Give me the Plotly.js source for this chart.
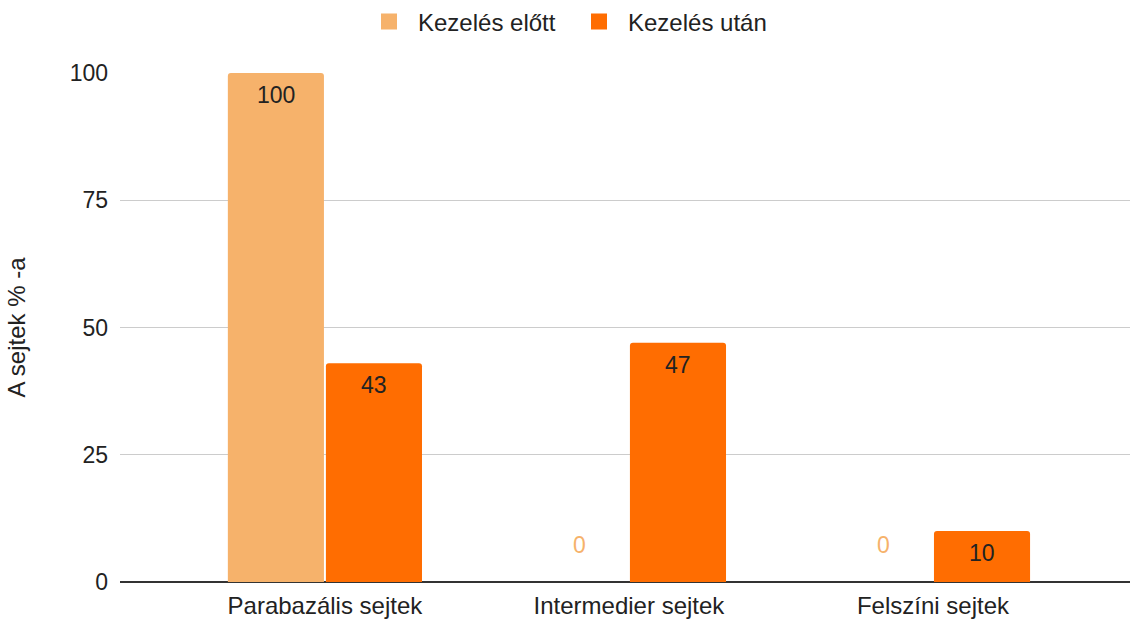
<!DOCTYPE html>
<html><head><meta charset="utf-8">
<script src="https://cdn.plot.ly/plotly-3.0.1.min.js"></script>
<style>html,body{margin:0;padding:0;background:#fff}#chart{width:1130px;height:619px}</style>
</head><body><div id="chart"></div>
<script>
const categories = ["Parabazális sejtek", "Intermedier sejtek", "Felszíni sejtek"];
const seriesNames = ["Kezelés előtt", "Kezelés után"];
const before = [100, 0, 0];
const after = [43, 47, 10];
const colors = ["#f6b26b", "#ff6d01"];
const yTicks = [0, 25, 50, 75, 100];

const FONT = "Arial, 'Liberation Sans', sans-serif";
const TXT = "#222222";
const series = [before, after];

const traces = series.map((vals, i) => ({
  type: "bar",
  name: seriesNames[i],
  x: categories,
  y: vals,
  marker: {color: colors[i], line: {width: 0}},
  showlegend: false,
  hoverinfo: "none"
}));
// legend entries with larger square symbols
seriesNames.forEach((n, i) => traces.push({
  type: "scatter", mode: "markers", name: n, x: [null], y: [null],
  marker: {symbol: "square", size: 16, color: colors[i], line: {width: 0}},
  showlegend: true, hoverinfo: "none"
}));

const barOffset = 49; // px offset of each bar centre from the category centre
const annotations = [];
series.forEach((vals, i) => {
  vals.forEach((v, j) => {
    annotations.push({
      x: categories[j], y: v, xref: "x", yref: "y",
      xshift: (i === 0 ? -barOffset : barOffset),
      yshift: v === 0 ? 37 : -22,
      text: String(v), showarrow: false, yanchor: "middle",
      font: {family: FONT, size: 23, color: v === 0 ? colors[i] : TXT}
    });
  });
});

const layout = {
  width: 1130, height: 619,
  margin: {l: 120, r: 0, t: 73, b: 37},
  paper_bgcolor: "#fff", plot_bgcolor: "#fff",
  font: {family: FONT, size: 24, color: TXT},
  barmode: "group", bargap: 0.355, bargroupgap: 0.02, barcornerradius: 3,
  showlegend: true,
  legend: {orientation: "h", xref: "container", x: 360 / 1130, xanchor: "left",
           yref: "container", y: 1 - 22 / 619, yanchor: "middle", font: {size: 24, color: TXT},
           itemsizing: "trace", itemwidth: 48, entrywidth: 147, entrywidthmode: "pixels",
           traceorder: "normal"},
  xaxis: {type: "category", range: [-0.674, 2.648], showgrid: false, zeroline: false,
          showline: false, ticks: "", ticklabelstandoff: 7, tickfont: {size: 24, color: TXT}},
  yaxis: {range: [0, 100], tickvals: yTicks, ticktext: yTicks.map(String),
          showgrid: true, gridcolor: "#cccccc", gridwidth: 1,
          zeroline: true, zerolinecolor: "#333", zerolinewidth: 1.5,
          ticks: "", ticklabelstandoff: 11, tickfont: {size: 23, color: TXT},
          title: {text: "A sejtek % -a", font: {size: 24, color: TXT}, standoff: 37}},
  annotations: annotations
};

Plotly.newPlot("chart", traces, layout, {displayModeBar: false, staticPlot: true});
</script></body></html>
